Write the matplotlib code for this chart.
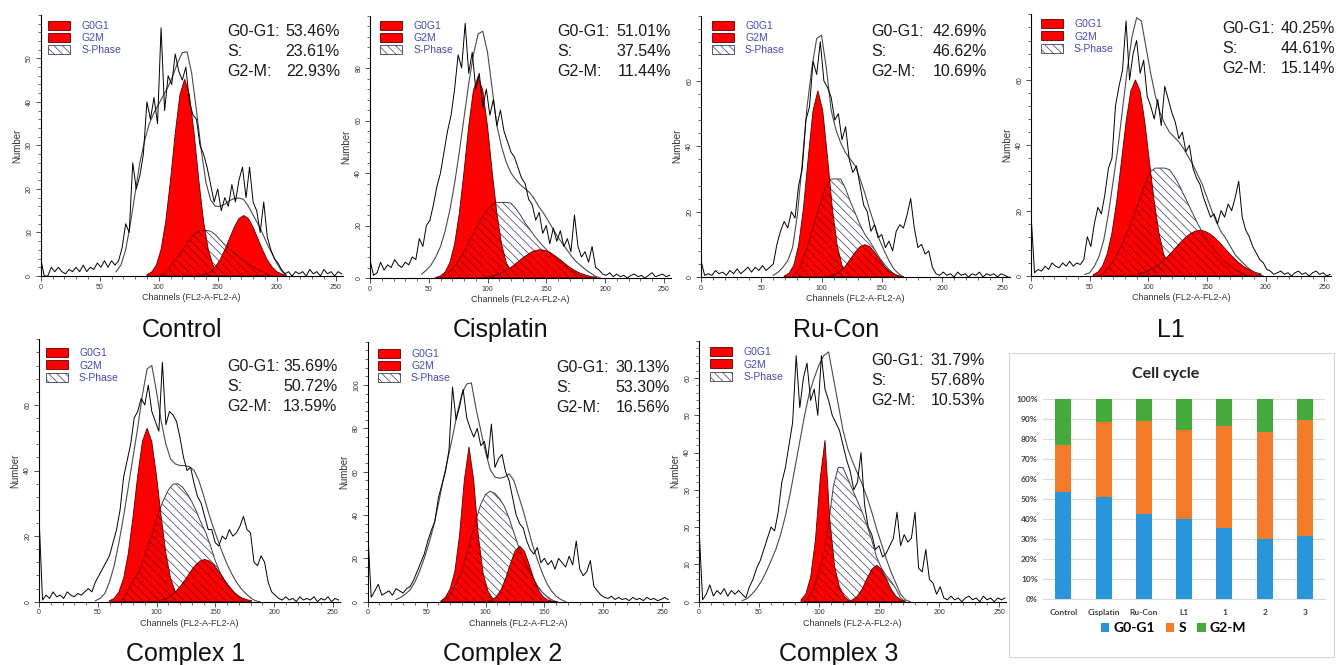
import numpy as np
import matplotlib
matplotlib.use("Agg")
import matplotlib.pyplot as plt
from matplotlib.patches import Patch, Rectangle
from matplotlib.ticker import MultipleLocator, PercentFormatter

W, H = 1340, 665

plt.rcParams['font.family'] = ['Liberation Sans', 'DejaVu Sans']
plt.rcParams['hatch.linewidth'] = 0.5

# ModFit summary, one entry per sample
panel_names = ['Control', 'Cisplatin', 'Ru-Con', 'L1', 'Complex 1', 'Complex 2', 'Complex 3']
bar_names = ['Control', 'Cisplatin', 'Ru-Con', 'L1', '1', '2', '3']
phases = ['G0-G1', 'S', 'G2-M']
g0g1_pct = [53.46, 51.01, 42.69, 40.25, 35.69, 30.13, 31.79]
s_pct = [23.61, 37.54, 46.62, 44.61, 50.72, 53.30, 57.68]
g2m_pct = [22.93, 11.44, 10.69, 15.14, 13.59, 16.56, 10.53]

RAW_STEP = 3   # raw counts read every 3rd channel (0..255)
FIT_STEP = 4   # fitted curves read every 4th channel from *_from

# ---------------- Control ----------------
control_raw = [4, 0, 0, 2, 1, 2, 1, 0.5, 1.5, 1,
               2, 1, 2.5, 1, 2, 1.5, 3, 2, 3.5, 2,
               3.5, 2.5, 3.5, 6.5, 12, 10, 26, 20, 23, 28,
               40, 36, 41, 35, 57, 38, 46, 44, 51, 47,
               45, 48, 40, 37, 36, 30, 28, 25, 21, 17,
               20, 15, 18, 16, 21, 17, 22, 25, 18, 25,
               17, 15, 10, 17, 9, 6, 4, 3, 1.5, 0.5,
               1, 0, 1, 0.5, 1, 0, 1.5, 0.5, 1, 0,
               1.5, 0.5, 1, 0, 1, 0.5]
control_env_from = 64
control_env = [1, 2.5, 6, 12, 19, 26, 31, 35, 37.5, 39.5, 41.5, 43.5, 46, 49, 51.3, 51.5,
               46.5, 38, 29, 21.5, 17.5, 16, 16, 16.5, 17.3, 17.8, 17.9, 17.6, 16, 14,
               12, 9.8, 7.3, 5.2, 3, 1.2, 0.2]
control_g1_from = 90
control_g1 = [0.3, 0.9, 2.5, 6.1, 12.6, 22.0, 32.8, 41.7, 45.2, 41.7, 32.8, 22.0, 12.6, 6.1,
              2.5, 0.9, 0.3]
control_g2_from = 136
control_g2 = [0.2, 0.5, 1.0, 2.1, 3.7, 6.0, 8.6, 11.2, 13.2, 13.9, 13.2, 11.2, 8.6, 6.0, 3.7,
              2.1, 1.0, 0.5, 0.2]
control_s_from = 100
control_s = [0, 0.5, 1.5, 3, 4.5, 6, 7.5, 9, 10, 10.5, 10.5, 10.3, 9.5, 8.3, 7.2, 6.2, 5.3,
             4.4, 3.6, 2.8, 2.1, 1.5, 1.0, 0.4, 0]

# ---------------- Cisplatin ----------------
cisplatin_raw = [7, 1, 2, 6, 3, 5, 4, 7, 5, 4,
                 6, 5, 8, 7, 15, 12, 20, 22, 28, 35,
                 40, 48, 56, 62, 72, 85, 80, 97, 78, 86,
                 72, 78, 65, 72, 62, 68, 58, 64, 56, 52,
                 48, 46, 42, 38, 36, 30, 28, 22, 25, 17,
                 20, 13, 19, 14, 18, 12, 15, 10, 24, 12,
                 8, 10, 6, 12, 4, 3, 1.5, 1, 2, 0.5,
                 1.5, 0.5, 1, 0, 1, 1.5, 0.5, 1, 0, 1,
                 2, 0.5, 1, 1.5, 0.5, 1]
cisplatin_env_from = 44
cisplatin_env = [1.5, 3, 5, 8, 12, 18, 26, 36, 48, 61, 74, 85, 93, 94, 86, 72, 58, 50, 44,
                 40, 37.5, 35.5, 34, 32.5, 30, 27, 24.5, 21.5, 18.5, 15.5, 13, 10.5, 8, 6,
                 4.5, 3, 1.8, 0.6, 0]
cisplatin_g1_from = 56
cisplatin_g1 = [0.2, 0.8, 2.3, 5.9, 12.9, 24.6, 40.5, 57.8, 71.5, 76.8, 71.5, 57.8, 40.5,
                24.6, 12.9, 5.9, 2.3, 0.8, 0.2]
cisplatin_g2_from = 97
cisplatin_g2 = [0.3, 0.5, 0.9, 1.5, 2.2, 3.2, 4.4, 5.8, 7.3, 8.6, 9.8, 10.5, 10.8, 10.5, 9.8,
                8.6, 7.3, 5.8, 4.4, 3.2, 2.2, 1.5, 0.9, 0.5, 0.3]
cisplatin_s_from = 60
cisplatin_s = [0, 1, 2.5, 4.5, 7, 10, 13.5, 17, 20.5, 23.5, 26, 28, 28.8, 28.8, 28.8, 28.5,
               26.5, 24, 21, 18.5, 16, 13.8, 11.8, 10, 8.3, 6.7, 5.2, 3.8, 2.6, 1.6, 0.8,
               0.2, 0]

# ---------------- Ru-Con ----------------
rucon_raw = [5, 0.5, 1, 0.5, 2, 1, 1.5, 0.5, 2, 1,
             2.5, 1, 2, 3, 1.5, 3, 2, 3.5, 2, 3,
             4, 10, 14, 17, 15, 20, 18, 28, 33, 48,
             52, 66, 62, 72, 60, 58, 55, 48, 50, 42,
             46, 36, 32, 34, 28, 22, 20, 14, 16, 12,
             13, 9, 11, 8, 14, 16, 15, 19, 24, 15,
             9, 10, 7, 8, 3, 1, 0.5, 1.5, 0.5, 1,
             0, 1.5, 0.5, 1, 0, 1, 0.5, 1.5, 0, 1,
             0.5, 1, 0, 1, 0.5, 0]
rucon_env_from = 60
rucon_env = [0.5, 1.5, 3, 5, 9, 19, 35, 52, 64, 73, 74, 64, 51, 45, 41, 38, 36, 34, 30, 25.6,
             20.5, 16, 11.5, 8, 5, 2.5, 1, 0]
rucon_g1_from = 69
rucon_g1 = [0.3, 1.1, 3.6, 9.7, 21.0, 36.6, 51.0, 57.0, 51.0, 36.6, 21.0, 9.7, 3.6, 1.1, 0.3]
rucon_g2_from = 104
rucon_g2 = [0.1, 0.4, 0.9, 1.9, 3.4, 5.5, 7.6, 9.3, 9.9, 9.3, 7.6, 5.5, 3.4, 1.9, 0.9, 0.4, 0.1]
rucon_s_from = 76
rucon_s = [0, 2, 5, 9, 14, 19, 24, 28, 30, 30, 30, 27, 23, 19.5, 16, 13, 11, 8.5, 6, 4, 2.3,
           1, 0]

# ---------------- L1 ----------------
l1_raw = [19, 1, 2, 1.5, 3, 2, 4, 3, 2.5, 4,
          3, 4.5, 3, 4, 3.5, 5, 12, 9, 16, 21,
          19, 25, 33, 36, 52, 58, 63, 78, 60, 68,
          72, 62, 66, 55, 52, 48, 54, 46, 58, 54,
          50, 47, 42, 44, 38, 40, 33, 30, 28, 24,
          21, 18, 19, 16, 20, 18, 22, 20, 24, 29,
          18, 14, 12, 9, 7, 5, 4, 2, 1.5, 0.5,
          1, 1.5, 0.5, 1, 0, 1, 1.5, 0.5, 1, 0,
          1, 1.5, 0.5, 1, 0, 0.5]
l1_env_from = 46
l1_env = [0.5, 1, 3, 6, 11, 19, 29, 39, 51, 63, 73, 79, 78, 70, 62, 55, 50, 46.5, 44, 42.5,
          41, 39, 36.5, 34, 31, 28, 24, 20, 16.5, 13.5, 11.5, 9, 6.5, 5, 3.5, 2.2, 1.2, 0.5, 0]
l1_g1_from = 53
l1_g1 = [0.4, 1.2, 3.1, 6.8, 13.2, 22.8, 34.8, 47.1, 56.5, 60.0, 56.5, 47.1, 34.8, 22.8, 13.2,
         6.8, 3.1, 1.2, 0.4]
l1_g2_from = 92
l1_g2 = [0.7, 1.0, 1.6, 2.3, 3.2, 4.4, 5.8, 7.3, 8.9, 10.5, 11.9, 13.0, 13.7, 14.0, 13.7, 13.0,
         11.9, 10.5, 8.9, 7.3, 5.8, 4.4, 3.2, 2.3, 1.6, 1.0, 0.7]
l1_s_from = 58
l1_s = [0, 1, 2.5, 4.5, 7, 10, 13.5, 17, 21, 25, 29, 32, 33, 33, 33, 32.5, 30.5, 28, 25, 22,
        19, 16, 13.5, 11, 9, 7.2, 5.6, 4.2, 3, 2, 1.2, 0.5, 0]

# ---------------- Complex 1 ----------------
c1_raw = [26, 0.5, 2, 1, 3, 1.5, 2, 1, 3, 2,
          1.5, 2.5, 2, 3, 4, 3, 6, 8, 10, 12,
          14, 18, 22, 28, 38, 43, 48, 56, 58, 62,
          60, 66, 58, 55, 52, 73, 54, 58, 57, 55,
          50, 44, 40, 41, 36, 32, 30, 26, 22, 22,
          18, 17, 20, 19, 22, 20, 21, 23, 26, 22,
          21, 12, 11, 14, 12, 6, 3, 2, 1, 0.5,
          1.5, 0.5, 1, 0, 1.5, 0.5, 1, 0.5, 1.5, 0,
          1, 0.5, 1.5, 0, 1, 0.5]
c1_env_from = 48
c1_env = [0.3, 1, 2.5, 6, 11, 18, 26, 35, 44, 53, 63, 71, 72, 64, 55, 48, 43.5, 42, 41.5, 41.5,
          41.2, 40, 37, 32.5, 27.5, 23, 19, 15, 11.5, 8.5, 6, 4, 2.5, 1.2, 0.3, 0]
c1_g1_from = 60
c1_g1 = [0.3, 1.0, 3.0, 7.1, 14.7, 25.8, 38.4, 48.8, 52.9, 48.8, 38.4, 25.8, 14.7, 7.1, 3.0,
         1.0, 0.3]
c1_g2_from = 101
c1_g2 = [0.3, 0.6, 1.1, 2.0, 3.3, 5.0, 7.0, 9.2, 11.1, 12.4, 12.9, 12.4, 11.1, 9.2, 7.0, 5.0,
         3.3, 2.0, 1.1, 0.6, 0.3]
c1_s_from = 70
c1_s = [0, 2.5, 5, 7.5, 10, 14, 18.5, 23, 27.5, 31, 34, 35.8, 36, 35, 33, 30.5, 27.5, 24, 21,
        17, 12.5, 9, 6.5, 4.5, 2.8, 1.2, 0]

# ---------------- Complex 2 ----------------
c2_raw = [33, 2, 5, 8, 3, 4, 5, 3, 6, 5,
          4, 6, 7, 10, 14, 18, 22, 28, 33, 37,
          48, 54, 60, 70, 99, 84, 90, 98, 85, 80,
          76, 80, 72, 74, 66, 82, 62, 66, 68, 60,
          56, 48, 40, 36, 34, 28, 24, 22, 25, 18,
          20, 17, 19, 15, 20, 18, 16, 21, 17, 28,
          15, 12, 14, 19, 7, 5, 3, 2, 1.5, 2.5,
          1, 2, 1, 1.5, 0.5, 2, 1, 1.5, 0.5, 2,
          1, 1.5, 0.5, 1, 2, 1]
c2_env_from = 24
c2_env = [1, 2, 3.5, 5.5, 9, 14, 20, 27, 35, 45, 56, 66, 76, 87, 96, 100.5, 101, 89, 79, 69,
          61, 57.5, 57, 57.5, 59, 56, 49, 42, 34, 26, 19.5, 13.5, 8.5, 5, 2.5, 1, 0]
c2_g1_from = 62
c2_g1 = [0.3, 2, 6, 14, 31, 56, 71.5, 56, 30, 13, 5, 1.5, 0.3]
c2_g2_from = 101
c2_g2 = [0.2, 0.7, 2.2, 5.3, 10.6, 17.3, 23.3, 25.7, 23.3, 17.3, 10.6, 5.3, 2.2, 0.7, 0.2, 0.05]
c2_s_from = 64
c2_s = [0, 2, 5, 9.5, 15, 22, 30, 38, 45, 49.5, 51, 50, 47.5, 44, 38.5, 32, 25.5, 20, 15.5, 11,
        7.5, 4.5, 2.5, 1, 0]

# ---------------- Complex 3 ----------------
c3_raw = [20, 0.5, 2, 4.5, 1.5, 3, 2, 3.5, 1.5, 3,
          2, 3, 2, 1, 4, 6, 9, 11, 14, 17,
          20, 19, 24, 32, 36, 42, 48, 66, 52, 60,
          64, 54, 57, 50, 66, 57, 54, 50, 48, 46,
          42, 38, 35, 30, 32, 40, 26, 20, 18, 14,
          15, 12, 13, 15, 17, 24, 15, 18, 16, 17,
          24, 9, 8, 14, 6, 5, 2, 4, 1, 0.5,
          1.5, 0.5, 1, 0, 1, 1.5, 0.5, 1, 0, 1.5,
          0.5, 1, 0, 1, 0.5, 1]
c3_env_from = 36
c3_env = [0.3, 0.8, 2, 3.5, 5.5, 8, 11, 14, 18, 23, 29, 36, 43, 50, 56, 60, 63.5, 66, 67, 60,
          53, 46, 41, 37.5, 34.5, 31.5, 28, 24, 19.5, 15.5, 11.5, 8, 5, 2, 0.5, 0]
c3_g1_from = 85
c3_g1 = [0.5, 2, 6.5, 16.5, 33, 43.3, 22, 9.5, 4, 1.5, 0.3]
c3_g2_from = 124
c3_g2 = [0.15, 0.5, 1.5, 3.4, 6.2, 8.7, 9.8, 8.7, 6.2, 3.4, 1.5, 0.5, 0.15]
c3_s_from = 88
c3_s = [0, 1.5, 4, 8, 13, 21, 31, 36, 36, 33, 30, 27, 24, 20.5, 16.5, 12, 9, 7, 5.5, 3.5, 1, 0]

panels = [
    dict(raw=control_raw, env=(control_env_from, control_env), g1=(control_g1_from, control_g1),
         g2=(control_g2_from, control_g2), s=(control_s_from, control_s)),
    dict(raw=cisplatin_raw, env=(cisplatin_env_from, cisplatin_env),
         g1=(cisplatin_g1_from, cisplatin_g1), g2=(cisplatin_g2_from, cisplatin_g2),
         s=(cisplatin_s_from, cisplatin_s)),
    dict(raw=rucon_raw, env=(rucon_env_from, rucon_env), g1=(rucon_g1_from, rucon_g1),
         g2=(rucon_g2_from, rucon_g2), s=(rucon_s_from, rucon_s)),
    dict(raw=l1_raw, env=(l1_env_from, l1_env), g1=(l1_g1_from, l1_g1),
         g2=(l1_g2_from, l1_g2), s=(l1_s_from, l1_s)),
    dict(raw=c1_raw, env=(c1_env_from, c1_env), g1=(c1_g1_from, c1_g1),
         g2=(c1_g2_from, c1_g2), s=(c1_s_from, c1_s)),
    dict(raw=c2_raw, env=(c2_env_from, c2_env), g1=(c2_g1_from, c2_g1),
         g2=(c2_g2_from, c2_g2), s=(c2_s_from, c2_s)),
    dict(raw=c3_raw, env=(c3_env_from, c3_env), g1=(c3_g1_from, c3_g1),
         g2=(c3_g2_from, c3_g2), s=(c3_s_from, c3_s)),
]

# page layout in pixels: left, right, top, bottom, ymax, ystep, legend xy,
# stats x0/x1/first row y, title xy (baseline)
layout = [
    (40.7, 342.8, 14.8, 276.0, 60, 10, (48, 21), 227, 340, 31.7, (181.7, 337)),
    (370.0, 670.8, 15.5, 278.0, 100, 20, (380, 20.7), 557.7, 671, 31.7, (501, 337)),
    (701.0, 1009.5, 15.6, 277.0, 80, 20, (711.7, 20.7), 871.7, 986.7, 31.7, (836, 337)),
    (1031.0, 1331.4, 14.4, 276.0, 80, 20, (1040.7, 19.3), 1222.7, 1335, 28.5, (1171, 337)),
    (39.0, 339.8, 339.3, 601.7, 80, 20, (45.7, 348.3), 227.7, 337.5, 366.7, (185.5, 661)),
    (367.7, 669.3, 341.7, 601.7, 120, 20, (377.7, 349), 556.7, 670, 368, (502.5, 661)),
    (699.0, 1006.2, 340.7, 601.7, 70, 10, (710, 347.3), 871.7, 985, 360.7, (839, 661)),
]

RED = '#ff0000'
RED_EDGE = '#5a0000'
HATCH = '\\\\\\\\'
S_EDGE = '#3c3c5a'


def px(x, y):
    return x / W, 1 - y / H


def closed(start, vals):
    x = start + FIT_STEP * np.arange(len(vals))
    y = np.asarray(vals, dtype=float)
    return np.r_[x[0], x, x[-1]], np.r_[0, y, 0]


fig = plt.figure(figsize=(W / 100, H / 100), dpi=100)
fig.patch.set_facecolor('white')

for i, (p, lay) in enumerate(zip(panels, layout)):
    l, r, t, b, ymax, ystep, leg_xy, sx0, sx1, sy, title_xy = lay
    ax = fig.add_axes([l / W, 1 - b / H, (r - l) / W, (b - t) / H])

    # S-phase, then the two red peaks, then S hatch again inside the red
    xs, ys = closed(*p['s'])
    ax.fill(xs, ys, facecolor='white', edgecolor=S_EDGE, hatch=HATCH, lw=0.7, zorder=2)
    for key in ('g1', 'g2'):
        xg, yg = closed(*p[key])
        peak, = ax.fill(xg, yg, facecolor=RED, edgecolor=RED_EDGE, lw=0.6, zorder=3)
        over, = ax.fill(xs, ys, facecolor='none', edgecolor='#7a0000', hatch=HATCH,
                        lw=0.6, zorder=4)
        over.set_clip_path(peak)

    ex = p['env'][0] + FIT_STEP * np.arange(len(p['env'][1]))
    ax.plot(ex, p['env'][1], color='#4a4a4a', lw=0.8, zorder=5)
    rx = RAW_STEP * np.arange(len(p['raw']))
    ax.plot(rx, p['raw'], color='black', lw=0.7, zorder=6)

    ax.set_xlim(0, 256)
    ax.set_ylim(0, ymax)
    ax.xaxis.set_major_locator(MultipleLocator(50))
    ax.xaxis.set_minor_locator(MultipleLocator(10))
    ax.set_yticks(np.arange(0, ymax, ystep))
    ax.yaxis.set_minor_locator(MultipleLocator(ystep / 5))
    ax.tick_params(labelsize=5, length=3.5, width=0.6, pad=2, colors='#333333')
    ax.tick_params(which='minor', length=2, width=0.5, colors='#333333')
    ax.tick_params(axis='y', labelrotation=90)
    for lbl in ax.get_yticklabels():
        lbl.set_va('center')
    for side in ('top', 'right'):
        ax.spines[side].set_visible(False)
    for side in ('left', 'bottom'):
        ax.spines[side].set_linewidth(0.8)
    ax.set_xlabel('Channels (FL2-A-FL2-A)', fontsize=6.5, labelpad=2, color='#333333')
    ax.set_ylabel('Number', fontsize=7, labelpad=3, color='#333333')

    handles = [Patch(facecolor=RED, edgecolor=RED_EDGE, lw=0.6),
               Patch(facecolor=RED, edgecolor=RED_EDGE, lw=0.6),
               Patch(facecolor='white', edgecolor=S_EDGE, hatch=HATCH, lw=0.6)]
    ax.legend(handles, ['G0G1', 'G2M', 'S-Phase'], loc='upper left',
              bbox_to_anchor=px(*leg_xy), bbox_transform=fig.transFigure, frameon=False,
              fontsize=7.5, labelcolor='#4a4ab4', handlelength=2.1, handleheight=0.95,
              handletextpad=1.1, labelspacing=0.2, borderpad=0, borderaxespad=0)

    vals = [g0g1_pct[i], s_pct[i], g2m_pct[i]]
    for k, (name, v) in enumerate(zip(phases, vals)):
        y = sy + 20 * k
        fig.text(*px(sx0, y), name + ':', ha='left', va='center', fontsize=11.5,
                 color='#1a1a1a')
        fig.text(*px(sx1, y), f'{v:.2f}%', ha='right', va='center', fontsize=11.5,
                 color='#1a1a1a')

    fig.text(*px(*title_xy), panel_names[i], ha='center', va='baseline', fontsize=18,
             color='#111111')

# ---------------- stacked bar summary ----------------
BLUE, ORANGE, GREEN = '#2996da', '#f47b2a', '#44aa3c'
fig.add_artist(Rectangle(px(1009, 657), (1334 - 1009) / W, (657 - 352.7) / H,
                         transform=fig.transFigure, fill=False, edgecolor='#d5d5d5', lw=0.8))
fig.text(*px(1165.7, 374.3), 'Cell cycle', ha='center', va='center', fontsize=11.5,
         fontfamily='Lato', fontweight='bold', color='#262626')

bx = fig.add_axes([1043.3 / W, 1 - 599.3 / H, (1325 - 1043.3) / W, 200 / H])
x = np.arange(len(bar_names))
g1f = np.array(g0g1_pct) / 100
sf = np.array(s_pct) / 100
g2f = np.array(g2m_pct) / 100
b1 = bx.bar(x, g1f, 0.4, color=BLUE, zorder=2)
b2 = bx.bar(x, sf, 0.4, bottom=g1f, color=ORANGE, zorder=2)
b3 = bx.bar(x, g2f, 0.4, bottom=g1f + sf, color=GREEN, zorder=2)
bx.set_xlim(-0.5, len(bar_names) - 0.5)
bx.set_ylim(0, 1)
bx.yaxis.set_major_locator(MultipleLocator(0.1))
bx.yaxis.set_major_formatter(PercentFormatter(1.0, decimals=0))
bx.set_xticks(x, bar_names)
bx.grid(axis='y', color='#d9d9d9', lw=0.8, zorder=0)
bx.set_axisbelow(True)
for side in ('top', 'right', 'left'):
    bx.spines[side].set_visible(False)
bx.spines['bottom'].set_color('#d9d9d9')
bx.tick_params(length=0, labelsize=6, labelcolor='#404040', labelfontfamily='Lato')
bx.tick_params(axis='y', pad=4)
bx.tick_params(axis='x', pad=7)
plt.setp(bx.get_xticklabels() + bx.get_yticklabels(), fontweight='bold')
bx.legend([b1, b2, b3], phases, ncol=3, loc='center', bbox_to_anchor=px(1173.5, 628.3),
          bbox_transform=fig.transFigure, frameon=False,
          prop=dict(family='Lato', weight='bold', size=10), handlelength=0.6,
          handleheight=0.6, handletextpad=0.3, columnspacing=0.8, borderpad=0)

fig.savefig('out.png', dpi=100, facecolor='white')
